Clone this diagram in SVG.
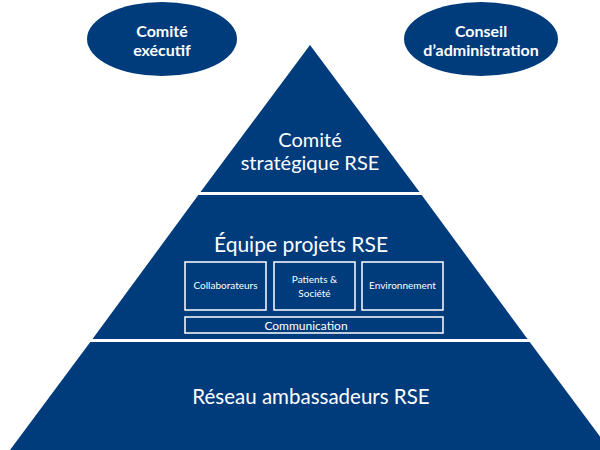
<svg xmlns="http://www.w3.org/2000/svg" width="600" height="450" viewBox="0 0 600 450">
<style>
.b{fill:#003b7c}
.t{fill:#fff;font-family:Lato,"Open Sans","Liberation Sans",sans-serif;text-anchor:middle}
.h{font-weight:bold;font-size:16px}
.box{fill:none;stroke:#fff;stroke-width:1.5}
.s{font-size:10px}
</style>
<rect width="600" height="450" fill="#fff"/>
<g id="ellipse-comite-executif">
<ellipse class="b" cx="162" cy="39" rx="75" ry="37"/>
<text class="t h" x="162" y="37">Comité</text>
<text class="t h" x="162" y="56">exécutif</text>
</g>
<g id="ellipse-conseil">
<ellipse class="b" cx="481" cy="39" rx="77" ry="37"/>
<text class="t h" x="481" y="37">Conseil</text>
<text class="t h" x="481" y="56" font-size="17">d’administration</text>
</g>
<g id="level-top">
<polygon class="b" points="310,45 200.5,192 419.5,192"/>
<text class="t" x="310" y="147" font-size="20">Comité</text>
<text class="t" x="310" y="170" font-size="20">stratégique RSE</text>
</g>
<g id="level-middle">
<polygon class="b" points="198.3,195 421.7,195 527.5,339 92.5,339"/>
<text class="t" x="301" y="252" font-size="21">Équipe projets RSE</text>
<g id="box-collaborateurs">
<rect class="box" x="185" y="262" width="81" height="48"/>
<text class="t s" x="225.5" y="289">Collaborateurs</text>
</g>
<g id="box-patients">
<rect class="box" x="274" y="262" width="81" height="48"/>
<text class="t s" x="314.5" y="283">Patients &amp;</text>
<text class="t s" x="314.5" y="297">Société</text>
</g>
<g id="box-environnement">
<rect class="box" x="362" y="262" width="81" height="48"/>
<text class="t s" x="402.5" y="289">Environnement</text>
</g>
<g id="box-communication">
<rect class="box" x="185" y="317" width="258" height="16"/>
<text class="t" x="306" y="329.5" font-size="12">Communication</text>
</g>
</g>
<g id="level-bottom">
<polygon class="b" points="90.3,342 529.7,342 610,450 10,450"/>
<text class="t" x="311" y="404" font-size="20.5">Réseau ambassadeurs RSE</text>
</g>
<g id="connectors"/>
</svg>
